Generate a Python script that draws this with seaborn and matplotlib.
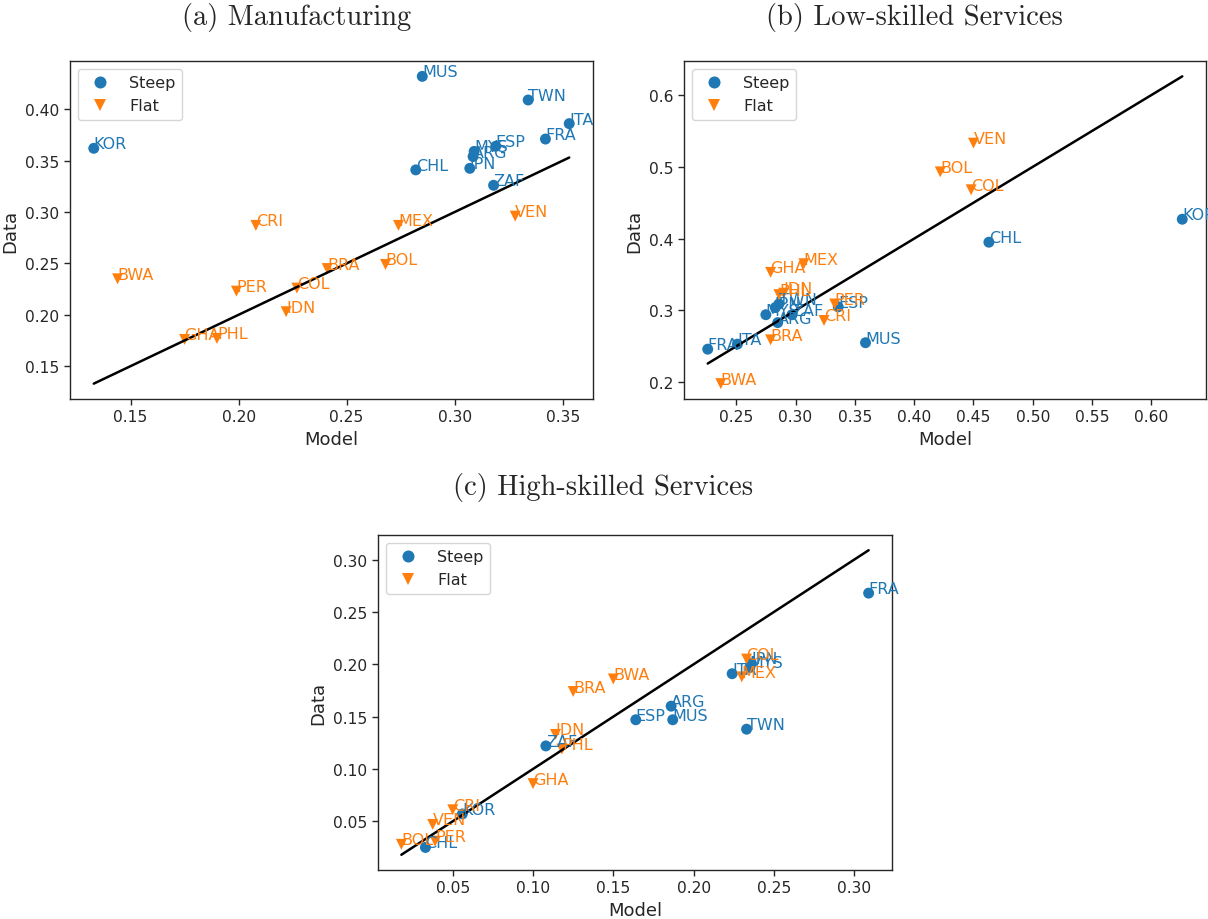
import numpy as np
import pandas as pd
import matplotlib
matplotlib.use("Agg")
import matplotlib.pyplot as plt
import seaborn as sns

# ---- (a) Manufacturing ----
countries_a = ["KOR", "MUS", "TWN", "ITA", "FRA", "ESP", "MYS", "ARG", "JPN", "CHL", "ZAF",
               "CRI", "MEX", "VEN", "BWA", "BRA", "BOL", "PER", "COL", "IDN", "GHA", "PHL"]
model_a = [0.133, 0.285, 0.334, 0.353, 0.342, 0.319, 0.309, 0.3085, 0.307, 0.282, 0.318,
           0.208, 0.274, 0.328, 0.144, 0.241, 0.268, 0.199, 0.227, 0.222, 0.175, 0.190]
data_a = [0.362, 0.432, 0.409, 0.386, 0.371, 0.364, 0.359, 0.354, 0.3425, 0.341, 0.326,
          0.287, 0.287, 0.296, 0.235, 0.245, 0.249, 0.223, 0.226, 0.203, 0.176, 0.177]
group_a = ["Steep"] * 11 + ["Flat"] * 11

# ---- (b) Low-skilled Services ----
countries_b = ["FRA", "ITA", "MYS", "TWN", "JPN", "ZAF", "ARG", "ESP", "MUS", "CHL", "KOR",
               "VEN", "BOL", "COL", "MEX", "GHA", "IDN", "PHL", "PER", "CRI", "BRA", "BWA"]
model_b = [0.226, 0.251, 0.275, 0.286, 0.283, 0.297, 0.285, 0.336, 0.359, 0.463, 0.626,
           0.450, 0.422, 0.448, 0.307, 0.279, 0.290, 0.286, 0.333, 0.324, 0.279, 0.237]
data_b = [0.246, 0.253, 0.294, 0.309, 0.304, 0.294, 0.283, 0.305, 0.255, 0.395, 0.427,
          0.533, 0.493, 0.468, 0.365, 0.353, 0.324, 0.322, 0.309, 0.286, 0.259, 0.198]
group_b = ["Steep"] * 11 + ["Flat"] * 11

# ---- (c) High-skilled Services ----
countries_c = ["FRA", "ITA", "JPN", "MYS", "ARG", "ESP", "MUS", "TWN", "ZAF", "KOR", "CHL",
               "COL", "MEX", "BWA", "BRA", "IDN", "PHL", "GHA", "CRI", "VEN", "BOL", "PER"]
model_c = [0.309, 0.224, 0.236, 0.235, 0.186, 0.164, 0.187, 0.233, 0.108, 0.056, 0.033,
           0.233, 0.230, 0.150, 0.125, 0.114, 0.118, 0.100, 0.050, 0.0375, 0.018, 0.039]
data_c = [0.268, 0.191, 0.201, 0.197, 0.160, 0.147, 0.147, 0.138, 0.122, 0.057, 0.025,
          0.205, 0.188, 0.186, 0.174, 0.133, 0.119, 0.086, 0.061, 0.047, 0.028, 0.031]
group_c = ["Steep"] * 11 + ["Flat"] * 11

titles = ["(a) Manufacturing", "(b) Low-skilled Services", "(c) High-skilled Services"]

sns.set_style("ticks")
plt.rcParams["font.family"] = ["DejaVu Sans"]

palette = {"Steep": "#1f77b4", "Flat": "#ff7f0e"}
markers = {"Steep": "o", "Flat": "v"}

fig = plt.figure(figsize=(12.08, 9.2), dpi=100)

W, H = 1208, 920
boxes = [(70, 62, 593, 400), (684, 62, 1206, 400), (378, 536, 892, 871)]
title_pos = [(297, 18), (914, 18), (603, 488)]
panels = [(countries_a, model_a, data_a, group_a),
          (countries_b, model_b, data_b, group_b),
          (countries_c, model_c, data_c, group_c)]

for (l, t, r, b), (names, model, data, group), title, (tx, ty) in zip(boxes, panels, titles, title_pos):
    ax = fig.add_axes([l / W, 1 - b / H, (r - l) / W, (b - t) / H])
    df = pd.DataFrame({"Model": model, "Data": data, "group": group, "name": names})
    lo, hi = min(model), max(model)
    # 45-degree reference line over the range of model values
    ax.plot([lo, hi], [lo, hi], color="black", lw=1.8, zorder=3)
    sns.scatterplot(data=df, x="Model", y="Data", hue="group", style="group",
                    hue_order=["Steep", "Flat"], style_order=["Steep", "Flat"],
                    palette=palette, markers=markers, s=62, linewidth=0, ax=ax, zorder=2)
    for _, row in df.iterrows():
        ax.text(row["Model"], row["Data"], row["name"], color=palette[row["group"]],
                fontsize=11.5, zorder=4)
    sns.move_legend(ax, "upper left", title=None, fontsize=11.5, frameon=True,
                    markerscale=1.1)
    ax.set_xlabel("Model", fontsize=13)
    ax.set_ylabel("Data", fontsize=13)
    ax.tick_params(labelsize=11.2, width=1, length=4)
    for sp in ax.spines.values():
        sp.set_linewidth(1.0)
    fig.text(tx / W, 1 - ty / H, title, family="cmr10", fontsize=20.5,
             ha="center", va="center")

fig.savefig("out.png", dpi=100)
